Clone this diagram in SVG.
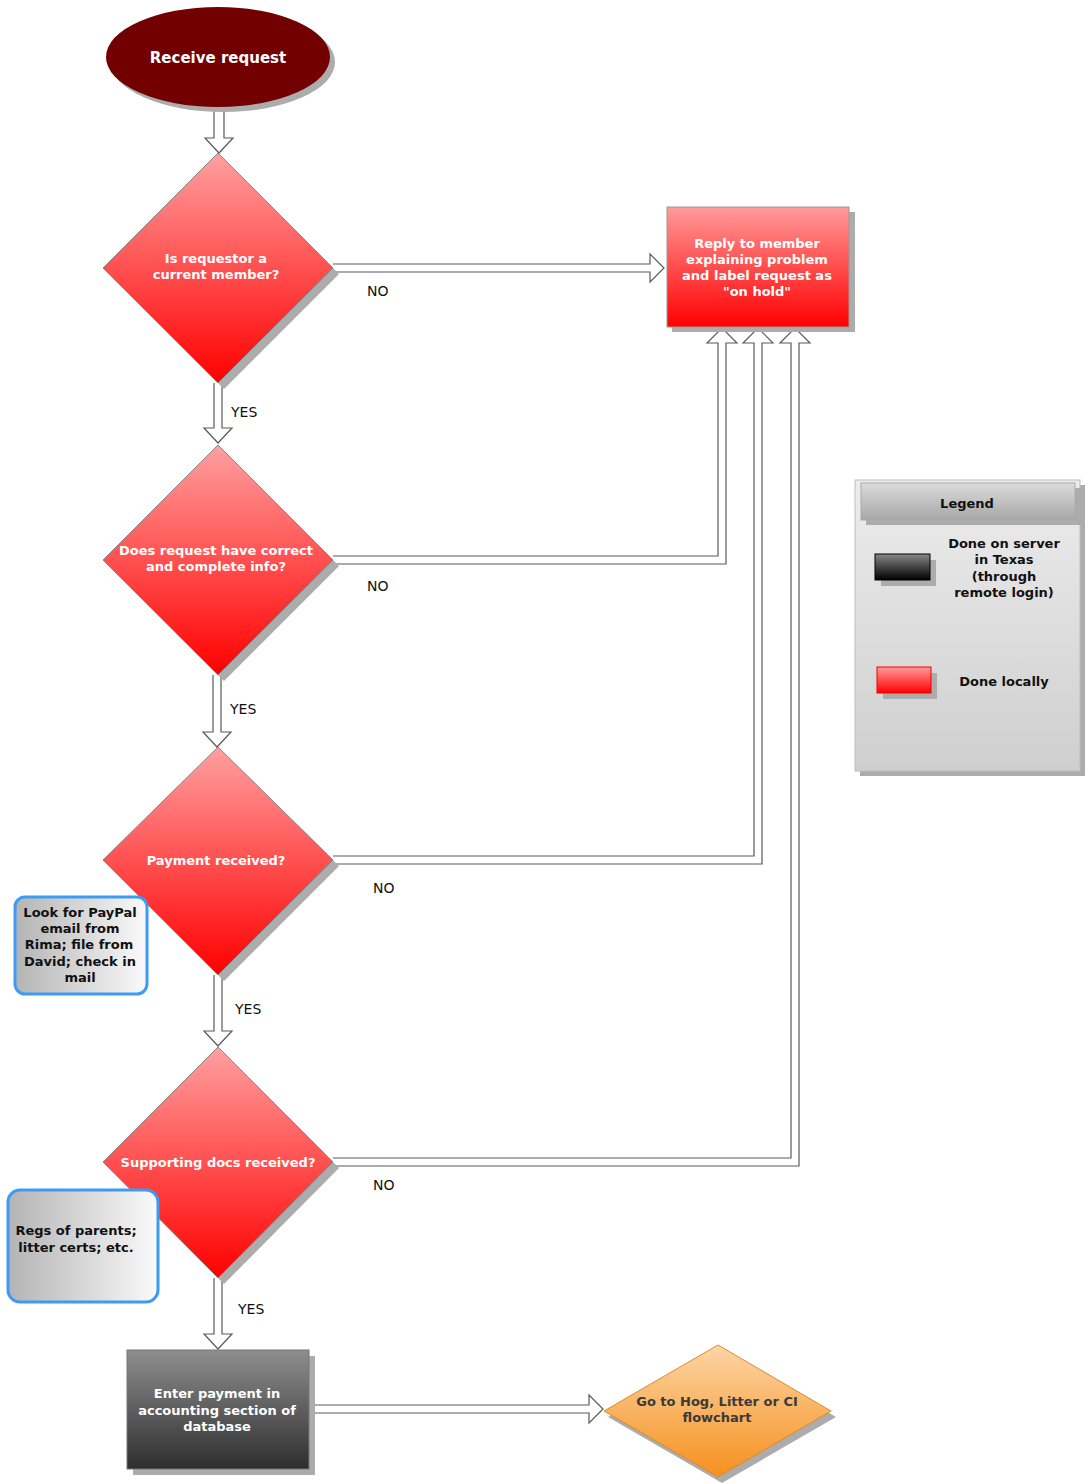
<svg xmlns="http://www.w3.org/2000/svg" width="1085" height="1484" viewBox="0 0 1085 1484">
<defs>
<linearGradient id="gRed" x1="0" y1="0" x2="0" y2="1"><stop offset="0" stop-color="#ffa0a0"/><stop offset="1" stop-color="#ff0000"/></linearGradient>
<linearGradient id="gRedBox" x1="0" y1="0" x2="0" y2="1"><stop offset="0" stop-color="#ff9a9a"/><stop offset="1" stop-color="#ff0000"/></linearGradient>
<linearGradient id="gDark" x1="0" y1="0" x2="0" y2="1"><stop offset="0" stop-color="#8e8e8e"/><stop offset="1" stop-color="#2e2e2e"/></linearGradient>
<linearGradient id="gBlack" x1="0" y1="0" x2="0" y2="1"><stop offset="0" stop-color="#888"/><stop offset="1" stop-color="#000"/></linearGradient>
<linearGradient id="gOrange" x1="0" y1="0" x2="0" y2="1"><stop offset="0" stop-color="#fdd5a5"/><stop offset="1" stop-color="#f5901e"/></linearGradient>
<linearGradient id="gNote" x1="0" y1="0" x2="1" y2="0"><stop offset="0" stop-color="#b4b4b4"/><stop offset="1" stop-color="#fafafa"/></linearGradient>
<linearGradient id="gLegend" x1="0" y1="0" x2="0" y2="1"><stop offset="0" stop-color="#ececec"/><stop offset="1" stop-color="#cfcfcf"/></linearGradient>
<linearGradient id="gHeader" x1="0" y1="0" x2="0" y2="1"><stop offset="0" stop-color="#dcdcdc"/><stop offset="1" stop-color="#a6a6a6"/></linearGradient>
</defs>
<style>
.sh{fill:#acacac}
.conn{fill:#fff;stroke:#5a5a5a;stroke-width:1.2}
.lbl{font-family:"DejaVu Sans","Liberation Sans",sans-serif;font-size:14px;fill:#111}
.wt{font-family:"DejaVu Sans",Verdana,sans-serif;font-weight:bold;font-size:13px;fill:#fff;text-anchor:middle}
.bt{font-family:"DejaVu Sans",Verdana,sans-serif;font-weight:bold;font-size:13px;fill:#111;text-anchor:middle}
.dia{fill:url(#gRed);stroke:#888;stroke-width:1}
</style>

<g id="connectors">
<polyline class="conn" points="214,108 214,138 205,138 219,153 233,138 224,138 224,108"/>
<polyline class="conn" points="333,264 650,264 650,254 664,268 650,282 650,272 333,272"/>
<polyline class="conn" points="214,383 214,428 204,428 218,443 232,428 222,428 222,383"/>
<polyline class="conn" points="333,556 718,556 718,343 707,343 722,328 737,343 726,343 726,564 333,564"/>
<polyline class="conn" points="213,675 213,732 203,732 217,747 231,732 221,732 221,675"/>
<polyline class="conn" points="333,856 754,856 754,343 743,343 758,328 773,343 762,343 762,864 333,864"/>
<polyline class="conn" points="214,975 214,1031 204,1031 218,1046 232,1031 222,1031 222,975"/>
<polyline class="conn" points="333,1158 791,1158 791,343 780,343 795,328 810,343 799,343 799,1166 333,1166"/>
<polyline class="conn" points="214,1278 214,1334 204,1334 218,1349 232,1334 222,1334 222,1278"/>
<polyline class="conn" points="309,1405 589,1405 589,1395 603,1409 589,1423 589,1413 309,1413"/>
<text class="lbl" x="367" y="296">NO</text>
<text class="lbl" x="367" y="591">NO</text>
<text class="lbl" x="373" y="893">NO</text>
<text class="lbl" x="373" y="1190">NO</text>
<text class="lbl" x="231" y="417">YES</text>
<text class="lbl" x="230" y="714">YES</text>
<text class="lbl" x="235" y="1014">YES</text>
<text class="lbl" x="238" y="1314">YES</text>
</g>

<g id="start">
<ellipse class="sh" cx="223" cy="62" rx="112" ry="50"/>
<ellipse cx="218" cy="57" rx="112" ry="50" fill="#730000"/>
<text class="wt" x="218" y="63" style="font-size:15px">Receive request</text>
</g>

<g id="d1">
<polygon class="sh" points="224,159 339,274 224,389 109,274"/>
<polygon class="dia" points="218,153 333,268 218,383 103,268"/>
<text class="wt" x="216" y="263">Is requestor a</text>
<text class="wt" x="216" y="279">current member?</text>
</g>

<g id="d2">
<polygon class="sh" points="224,451 339,566 224,681 109,566"/>
<polygon class="dia" points="218,445 333,560 218,675 103,560"/>
<text class="wt" x="216" y="555">Does request have correct</text>
<text class="wt" x="216" y="571">and complete info?</text>
</g>

<g id="d3">
<polygon class="sh" points="224,753 339,866 224,981 109,866"/>
<polygon class="dia" points="218,747 333,860 218,975 103,860"/>
<text class="wt" x="216" y="865">Payment received?</text>
</g>

<g id="d4">
<polygon class="sh" points="224,1053 339,1168 224,1284 109,1168"/>
<polygon class="dia" points="218,1047 333,1162 218,1278 103,1162"/>
<text class="wt" x="218" y="1167">Supporting docs received?</text>
</g>

<g id="reply">
<rect class="sh" x="672" y="212" width="183" height="120"/>
<rect x="667" y="207" width="182" height="120" fill="url(#gRedBox)" stroke="#999" stroke-width="1"/>
<text class="wt" x="757" y="248">Reply to member</text>
<text class="wt" x="757" y="264">explaining problem</text>
<text class="wt" x="757" y="280">and label request as</text>
<text class="wt" x="757" y="296">"on hold"</text>
</g>

<g id="legend">
<rect class="sh" x="860" y="485" width="225" height="291"/>
<rect x="855" y="480" width="225" height="291" fill="url(#gLegend)" stroke="#bdbdbd" stroke-width="1"/>
<rect class="sh" x="866" y="488" width="215" height="37"/>
<rect x="861" y="483" width="214" height="37" fill="url(#gHeader)" stroke="#aaa" stroke-width="1"/>
<text class="bt" x="967" y="508">Legend</text>
<rect class="sh" x="881" y="560" width="55" height="26"/>
<rect x="875" y="554" width="55" height="26" fill="url(#gBlack)" stroke="#000" stroke-width="1"/>
<text class="bt" x="1004" y="548">Done on server</text>
<text class="bt" x="1004" y="564">in Texas</text>
<text class="bt" x="1004" y="581">(through</text>
<text class="bt" x="1004" y="597">remote login)</text>
<rect class="sh" x="883" y="673" width="54" height="26"/>
<rect x="877" y="667" width="54" height="26" fill="url(#gRedBox)" stroke="#e00" stroke-width="1"/>
<text class="bt" x="1004" y="686">Done locally</text>
</g>

<g id="note-paypal">
<rect x="15" y="897" width="132" height="97" rx="10" fill="url(#gNote)" stroke="#3d9bf5" stroke-width="3"/>
<text class="bt" x="80" y="917">Look for PayPal</text>
<text class="bt" x="80" y="933">email from</text>
<text class="bt" x="79" y="949">Rima; file from</text>
<text class="bt" x="80" y="966">David; check in</text>
<text class="bt" x="80" y="982">mail</text>
</g>

<g id="note-regs">
<rect x="8" y="1190" width="150" height="112" rx="12" fill="url(#gNote)" stroke="#3d9bf5" stroke-width="3"/>
<text class="bt" x="76" y="1235">Regs of parents;</text>
<text class="bt" x="76" y="1252">litter certs; etc.</text>
</g>

<g id="enter">
<rect class="sh" x="133" y="1356" width="182" height="119"/>
<rect x="127" y="1350" width="182" height="119" fill="url(#gDark)" stroke="#777" stroke-width="1"/>
<text class="wt" x="217" y="1398">Enter payment in</text>
<text class="wt" x="217" y="1415">accounting section of</text>
<text class="wt" x="217" y="1431">database</text>
</g>

<g id="goto">
<polygon class="sh" points="722,1350 836,1417 722,1483 608,1417"/>
<polygon points="718,1345 831,1411 718,1477 604,1411" fill="url(#gOrange)" stroke="#d98a30" stroke-width="1"/>
<text class="bt" x="717" y="1406" style="fill:#3a3a3a">Go to Hog, Litter or CI</text>
<text class="bt" x="717" y="1422" style="fill:#3a3a3a">flowchart</text>
</g>
</svg>
